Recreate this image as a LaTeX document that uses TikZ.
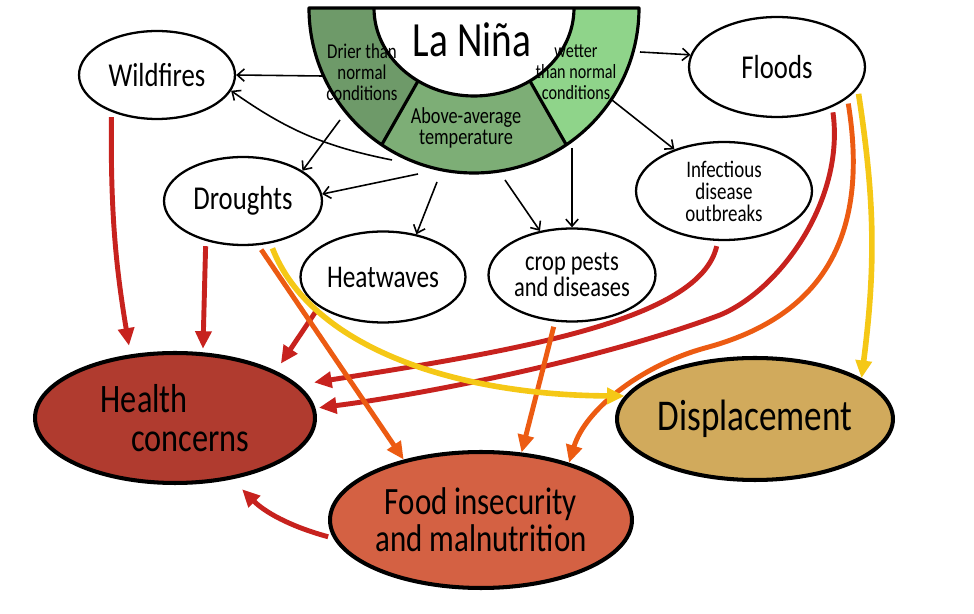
\documentclass[tikz,border=0pt]{standalone}
\usepackage{fontspec}
\setmainfont{Carlito}[FakeStretch=0.8]
\usetikzlibrary{shapes.geometric,arrows.meta}

\definecolor{dryGreen}{HTML}{6E9A69}
\definecolor{warmGreen}{HTML}{7DAE76}
\definecolor{wetGreen}{HTML}{8FD48A}
\definecolor{healthRed}{HTML}{B03B2F}
\definecolor{foodRed}{HTML}{D46143}
\definecolor{displaceTan}{HTML}{D1AA5C}
\definecolor{arrowRed}{HTML}{C7221E}
\definecolor{arrowOrange}{HTML}{EC5B12}
\definecolor{arrowYellow}{HTML}{F5C816}

\begin{document}
\begin{tikzpicture}[x=0.02cm, y=0.02cm, >={Straight Barb[length=4pt,width=7pt]},
    bubble/.style={ellipse, draw, line width=1.3pt, fill=white, inner sep=0pt, align=center,
        font=\fontsize{19}{21}\selectfont},
    effect/.style={ellipse, draw, line width=2.3pt, inner sep=0pt, align=center},
    seglabel/.style={align=center, inner sep=0pt, font=\fontsize{12}{12}\selectfont},
    cause/.style={->, line width=0.9pt},
    impact/.style={line width=2.8pt, -{Triangle[length=10pt,width=9pt]}, shorten <=3pt}]
    \useasboundingbox (0,0) rectangle (974,-614);

    % 1. Nửa đĩa La Niña
    \coordinate (C) at (474,-8);
    \fill[dryGreen] (309,-8) arc[start angle=180, end angle=236, radius=165]
        -- ([shift={(C)}]236:100 and 88) arc[start angle=236, end angle=180, x radius=100, y radius=88] -- cycle;
    \fill[warmGreen] ([shift={(C)}]236:165) arc[start angle=236, end angle=304, radius=165]
        -- ([shift={(C)}]304:100 and 88) arc[start angle=304, end angle=236, x radius=100, y radius=88] -- cycle;
    \fill[wetGreen] ([shift={(C)}]304:165) arc[start angle=304, end angle=360, radius=165]
        -- (574,-8) arc[start angle=0, end angle=-56, x radius=100, y radius=88] -- cycle;
    \draw[line width=1.8pt, line join=round] (309,-8) arc[start angle=180, end angle=360, radius=165] -- cycle;
    \draw[line width=1.8pt] (374,-8) arc[start angle=180, end angle=360, x radius=100, y radius=88];
    \draw[line width=1.8pt] ([shift={(C)}]236:100 and 88) -- ([shift={(C)}]236:165);
    \draw[line width=1.8pt] ([shift={(C)}]304:100 and 88) -- ([shift={(C)}]304:165);

    \node[font=\fontsize{28}{30}\selectfont] (nina) at (472,-40) {La Niña};
    \node[seglabel] (dry) at (362,-72) {Drier than\\normal\\conditions};
    \node[seglabel, font=\fontsize{13}{12}\selectfont] (warm) at (466,-128) {Above-average\\temperature};
    \node[seglabel, font=\fontsize{11.5}{12}\selectfont] (wet) at (576,-72) {wetter\\than normal\\conditions};

    % 2. Các hệ quả trực tiếp
    \node[bubble, minimum width=3.12cm, minimum height=1.76cm] (wild) at (157,-75) {Wildfires};
    \node[bubble, minimum width=3.16cm, minimum height=1.76cm] (drought) at (243,-201) {Droughts};
    \node[bubble, minimum width=3.3cm, minimum height=1.82cm, font=\fontsize{18}{20}\selectfont] (heat) at (383,-277) {Heatwaves};
    \node[bubble, minimum width=3.34cm, minimum height=1.86cm, font=\fontsize{16}{15}\selectfont] (crop) at (572,-275) {crop pests\\and diseases};
    \node[bubble, minimum width=3.52cm, minimum height=1.96cm, font=\fontsize{13.5}{12.5}\selectfont] (infect) at (724,-191) {Infectious\\disease\\outbreaks};
    \node[bubble, minimum width=3.52cm, minimum height=2cm] (flood) at (777,-67) {Floods};

    % 3. Các tác động cuối
    \node[effect, fill=healthRed, minimum width=5.6cm, minimum height=2.6cm, align=left,
        font=\fontsize{23}{22}\selectfont] (health) at (175,-418) {Health\\\hspace*{0.75em}concerns};
    \node[effect, fill=foodRed, minimum width=6.04cm, minimum height=2.72cm,
        font=\fontsize{22}{21}\selectfont] (food) at (481,-520) {Food insecurity\\and malnutrition};
    \node[effect, fill=displaceTan, minimum width=5.52cm, minimum height=2.44cm,
        font=\fontsize{25}{27}\selectfont] (displace) at (755,-419) {Displacement};

    % 4. Mũi tên đen từ nửa đĩa
    \coordinate (s1) at (322,-76);
    \coordinate (s2) at (392,-160);
    \coordinate (s3) at (340,-120);
    \coordinate (s4) at (418,-174);
    \coordinate (s5) at (437,-182);
    \coordinate (s6) at (505,-180);
    \coordinate (s7) at (572,-148);
    \coordinate (s8) at (612,-100);
    \coordinate (s9) at (640,-52);
    \draw[cause] (s1) -- (wild.east);
    \draw[cause] (s2) to[bend left=12] (wild.-12);
    \draw[cause] (s3) -- (drought.27);
    \draw[cause] (s4) -- (drought.5);
    \draw[cause] (s5) -- (heat.52);
    \draw[cause] (s6) -- (crop.126);
    \draw[cause] (s7) -- (crop.north);
    \draw[cause] (s8) -- (infect.140);
    \draw[cause] (s9) -- (flood.172);

    % 5. Mũi tên đỏ tới Health concerns
    \draw[impact, arrowRed, shorten >=5pt] (wild.219) to[bend right=5] (health.125);
    \draw[impact, arrowRed, shorten >=2pt] (drought.227) -- (health.67);
    \draw[impact, arrowRed, shorten >=5pt] (heat.205) -- (health.25);
    \draw[impact, arrowRed, shorten >=9pt] (infect.263) .. controls (700,-320) and (520,-350) .. (health.15);
    \draw[impact, arrowRed, shorten >=2pt] (flood.-36) .. controls (845,-200) and (780,-290) .. (720,-315)
        .. controls (600,-360) and (420,-395) .. (health.4);
    \draw[impact, arrowRed, shorten >=8pt] (food.187) to[bend left=15] (health.-47);

    % 6. Mũi tên cam tới Food insecurity
    \draw[impact, arrowOrange] (drought.289) -- (food.142);
    \draw[impact, arrowOrange] (crop.250) -- (food.59);
    \draw[impact, arrowOrange] (flood.-24) .. controls (872,-250) and (810,-320) .. (705,-348)
        .. controls (640,-366) and (585,-410) .. (food.33);

    % 7. Mũi tên vàng tới Displacement
    \draw[impact, arrowYellow, line width=3.2pt] (drought.303) .. controls (310,-345) and (450,-395) .. (displace.170);
    \draw[impact, arrowYellow, line width=3.2pt] (flood.-15) to[bend left=8] (displace.21);

\end{tikzpicture}
\end{document}
